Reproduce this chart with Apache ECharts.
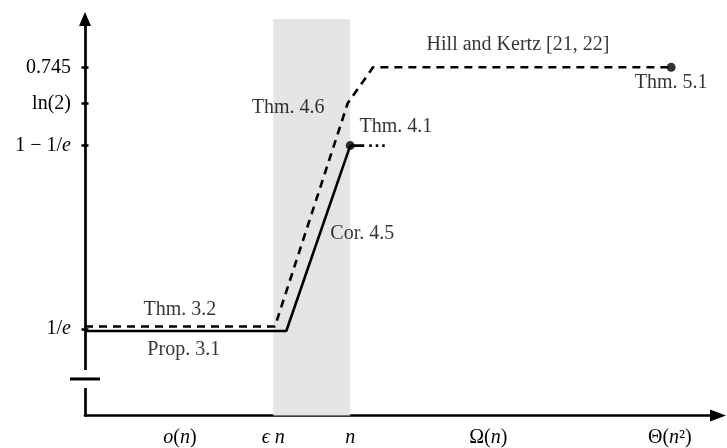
<!DOCTYPE html>
<html><head><meta charset="utf-8">
<script src="https://cdn.jsdelivr.net/npm/echarts@6/dist/echarts.min.js"></script>
<style>html,body{margin:0;padding:0;background:#fff}#c{width:727px;height:448px}</style>
</head><body><div id="c"></div>
<script>
// ---- data ----
const xTickValues = [15, 29.75, 41.9, 63.7, 92.4];
const xTickLabels = ['{i|o}({i|n})', '{i|ϵ n}', '{i|n}', 'Ω({i|n})', 'Θ({i|n}²)'];
const yTickValues = [1 / Math.E, 1 - 1 / Math.E, Math.LN2, 0.745];
const yTickLabels = ['1/{i|e}', '1 − 1/{i|e}', 'ln(2)', '0.745'];
const solidLine = [[0, 0.3647], [31.8, 0.3647], [41.9, 1 - 1 / Math.E]];
const solidTail = [[41.9, 1 - 1 / Math.E], [47.4, 1 - 1 / Math.E]];
const dashedLine = [[0, 0.3712], [30, 0.3712], [41.5, Math.LN2], [45.5, 0.745], [92.6, 0.745]];
const endPoints = [[41.9, 1 - 1 / Math.E], [92.6, 0.745]];
const bandX = [29.75, 41.9];
const bandY = [0.2428, 0.8194];
const yBreak = [0.2824, 0.2955, 0.3084];
const annotationText = ['Hill and Kertz [21, 22]', 'Thm. 5.1', 'Thm. 4.6', 'Thm. 4.1', 'Cor. 4.5', 'Thm. 3.2', 'Prop. 3.1'];
const annotationX = [68.4, 92.6, 32.1, 49.1, 43.8, 15.0, 15.6];
const annotationY = [0.7772, 0.7223, 0.6863, 0.6589, 0.5046, 0.3950, 0.3373];

const FONT = 'Liberation Serif';
const chart = echarts.init(document.getElementById('c'), null, {renderer: 'canvas'});
const rich = {i: {fontStyle: 'italic', fontFamily: FONT, fontSize: 20, color: '#000'}};

chart.setOption({
  animation: false,
  backgroundColor: '#fff',
  grid: {left: 85, right: 9, top: 19, bottom: 32.5, containLabel: false, outerBoundsMode: 'none'},
  xAxis: {
    type: 'value', min: 0, max: 100,
    splitLine: {show: false},
    axisTick: {show: false},
    axisLine: {show: true, symbol: ['none', 'triangle'], symbolSize: [12, 16], lineStyle: {color: '#000', width: 2.7}},
    axisLabel: {
      customValues: xTickValues, margin: 12,
      fontFamily: FONT, fontSize: 20, color: '#000', rich: rich,
      formatter: function (v) {
        let k = xTickValues.findIndex(t => Math.abs(t - v) < 1e-6);
        return k >= 0 ? xTickLabels[k] : '';
      }
    }
  },
  yAxis: [{
    type: 'value', min: 0.2428, max: 0.8147,
    splitLine: {show: false},
    axisLine: {show: true, symbol: ['none', 'triangle'], symbolSize: [12, 14], lineStyle: {color: '#000', width: 2.7}},
    axisTick: {show: true, customValues: yTickValues, length: 3.5, lineStyle: {color: '#000', width: 2.5}},
    axisLabel: {
      customValues: yTickValues, margin: 14,
      fontFamily: FONT, fontSize: 20, color: '#000', rich: rich,
      formatter: function (v) {
        let k = yTickValues.findIndex(t => Math.abs(t - v) < 1e-6);
        return k >= 0 ? yTickLabels[k] : '';
      }
    }
  }, {
    type: 'value', min: 0.2428, max: 0.8147, position: 'left',
    splitLine: {show: false},
    axisLine: {show: false},
    axisTick: {show: true, inside: true, customValues: yTickValues, length: 3.5, lineStyle: {color: '#000', width: 2.5}},
    axisLabel: {show: false}
  }],
  series: [
    {
      type: 'line', data: [], z: 1, silent: true, clip: false,
      markArea: {
        silent: true,
        itemStyle: {color: '#e5e5e5'},
        data: [[{xAxis: bandX[0], yAxis: bandY[0]}, {xAxis: bandX[1], yAxis: bandY[1]}]]
      }
    },
    {
      type: 'line', data: dashedLine, z: 3, symbol: 'none',
      lineStyle: {color: '#000', width: 2.6, type: [8, 6]}
    },
    {
      type: 'line', data: solidLine, z: 3, symbol: 'none',
      lineStyle: {color: '#000', width: 2.6}
    },
    {
      type: 'line', data: solidTail, z: 3, symbol: 'none',
      lineStyle: {color: '#000', width: 2.6, type: [14, 5, 2.5, 4, 2.5, 4, 2.5, 60]}
    },
    {
      type: 'scatter', data: endPoints, z: 4, symbol: 'circle', symbolSize: 9,
      itemStyle: {color: '#000'}
    },
    {
      type: 'scatter', z: 5, symbolSize: 0,
      data: annotationText.map((t, i) => ({name: t, value: [annotationX[i], annotationY[i]]})),
      label: {
        show: true, position: 'inside', formatter: '{b}',
        fontFamily: FONT, fontSize: 20, color: '#000', textBorderWidth: 0
      }
    }
  ]
});

const pTop = chart.convertToPixel({gridIndex: 0}, [0, yBreak[2]]);
const pMid = chart.convertToPixel({gridIndex: 0}, [0, yBreak[1]]);
const pBot = chart.convertToPixel({gridIndex: 0}, [0, yBreak[0]]);
chart.setOption({
  graphic: [
    {type: 'rect', z: 100, shape: {x: pTop[0] - 5, y: pTop[1], width: 10, height: pBot[1] - pTop[1]}, style: {fill: '#fff'}},
    {type: 'line', z: 101, shape: {x1: pMid[0] - 15, y1: pMid[1], x2: pMid[0] + 15, y2: pMid[1]}, style: {stroke: '#000', lineWidth: 3}}
  ]
});
</script>
</body></html>
